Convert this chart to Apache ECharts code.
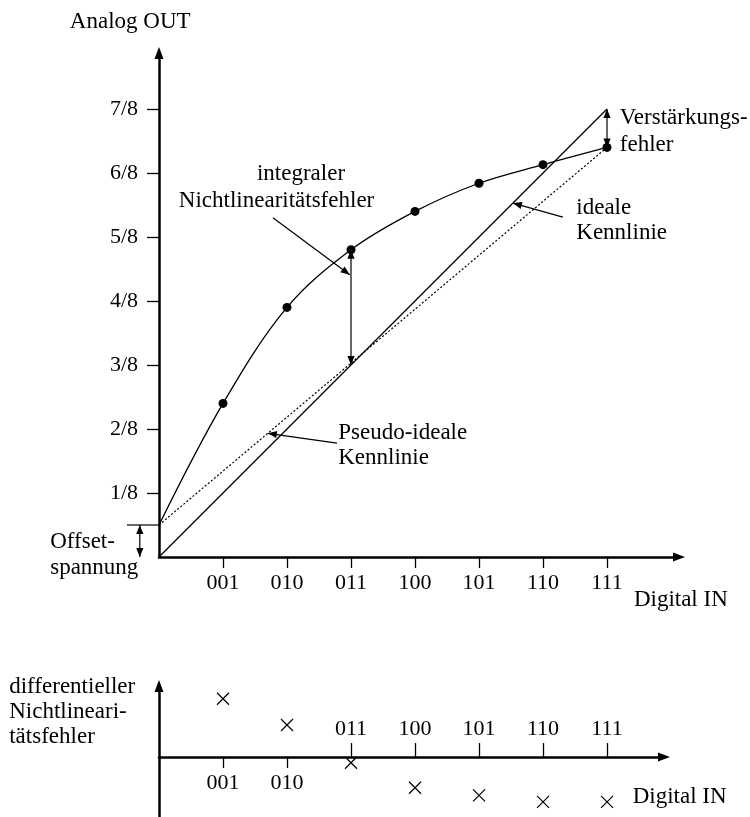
<!DOCTYPE html>
<html>
<head>
<meta charset="utf-8">
<title>DAU-Kennlinie und Fehlerarten</title>
<script src="https://cdn.jsdelivr.net/npm/echarts@6/dist/echarts.min.js"></script>
<style>
  html, body { margin: 0; padding: 0; background: #fff; }
  #chart { width: 750px; height: 817px; }
</style>
</head>
<body>
<div id="chart"></div>
<script>
// Input codes of the 3-bit converter and their step index
const codes = ['001', '010', '011', '100', '101', '110', '111'];
const codeSteps = [1, 2, 3, 4, 5, 6, 7];
// Output scale labels (eighths of full scale)
const outLabels = ['1/8', '2/8', '3/8', '4/8', '5/8', '6/8', '7/8'];
const outSteps = [1, 2, 3, 4, 5, 6, 7];
// Output at code 000 (offset) and measured output per code, in eighths
const offsetLevel = 0.5;
const measuredOut = [2.4, 3.9, 4.8, 5.4, 5.84, 6.13, 6.4];
// Ideal output per code, in eighths
const idealOut = [1, 2, 3, 4, 5, 6, 7];
// Differential nonlinearity per code, in LSB
const dnlValues = [0.91, 0.5, -0.09, -0.48, -0.6, -0.7, -0.7];

const FONT = '"Liberation Serif", "Times New Roman", serif';
const INK = '#000';

// Both diagrams share one scale: pixels per LSB on either axis
const PX_PER_STEP = 64;
const lowerYMin = -0.9375, lowerYMax = 1.11;

// Pseudo-ideal line: straight from the offset point to the last measured point
const lastCode = codeSteps[codeSteps.length - 1];
const lastOut = measuredOut[measuredOut.length - 1];
function pseudoAt(x) { return offsetLevel + (lastOut - offsetLevel) * x / lastCode; }

// Arrows: [x1, y1, x2, y2, head at start, head at end]
const mainArrows = [
  [codeSteps[2], measuredOut[2], codeSteps[2], idealOut[2], 1, 1],   // integral nonlinearity
  [lastCode, idealOut[6], lastCode, lastOut, 1, 1],                   // gain error
  [-0.3, 0, -0.3, offsetLevel, 1, 1],                                 // offset voltage
  [1.78, 5.3, 2.98, 4.41, 0, 1],                                      // pointer: integral
  [6.31, 5.31, 5.53, 5.53, 0, 1],                                     // pointer: ideal line
  [2.78, 1.78, 1.7, pseudoAt(1.7), 0, 1]                              // pointer: pseudo-ideal
];
// Plain strokes: [x1, y1, x2, y2]
const mainStrokes = [
  [-0.5, offsetLevel, 0, offsetLevel]
];
// Text blocks of the upper diagram: [x, y] in data units, with text and alignment
const mainTextPos = [
  [-0.45, 8.36], [7.42, -0.67],
  [7.2, 6.86], [7.2, 6.44],
  [6.52, 5.45], [6.52, 5.06],
  [1.53, 5.98], [0.31, 5.56],
  [2.8, 1.94], [2.8, 1.55],
  [-1.7, 0.23], [-1.7, -0.17]
];
const mainTexts = [
  'Analog OUT', 'Digital IN',
  'Verstärkungs-', 'fehler',
  'ideale', 'Kennlinie',
  'integraler', 'Nichtlinearitätsfehler',
  'Pseudo-ideale', 'Kennlinie',
  'Offset-', 'spannung'
];
const mainAlign = ['center', 'left', 'left', 'left', 'left', 'left',
                   'left', 'left', 'left', 'left', 'left', 'left'];
// Text blocks of the lower diagram
const lowerTextPos = [[-2.34, 1.09], [-2.34, 0.70], [-2.34, 0.31], [7.4, -0.63]];
const lowerTexts = ['differentieller', 'Nichtlineari-', 'tätsfehler', 'Digital IN'];

function arrowHead(from, tip) {
  const dx = tip[0] - from[0], dy = tip[1] - from[1];
  const L = Math.hypot(dx, dy) || 1;
  const ux = dx / L, uy = dy / L, len = 9, w = 3.6;
  const bx = tip[0] - ux * len, by = tip[1] - uy * len;
  return {
    type: 'polygon',
    shape: { points: [[tip[0], tip[1]], [bx - uy * w, by + ux * w], [bx + uy * w, by - ux * w]] },
    style: { fill: INK }
  };
}

function renderArrow(params, api) {
  const p1 = api.coord([api.value(0), api.value(1)]);
  const p2 = api.coord([api.value(2), api.value(3)]);
  const children = [{
    type: 'line',
    shape: { x1: p1[0], y1: p1[1], x2: p2[0], y2: p2[1] },
    style: { stroke: INK, lineWidth: 1.2 }
  }];
  if (api.value(4)) children.push(arrowHead(p2, p1));
  if (api.value(5)) children.push(arrowHead(p1, p2));
  return { type: 'group', children: children };
}

function renderStroke(params, api) {
  const p1 = api.coord([api.value(0), api.value(1)]);
  const p2 = api.coord([api.value(2), api.value(3)]);
  return {
    type: 'line',
    shape: { x1: p1[0], y1: p1[1], x2: p2[0], y2: p2[1] },
    style: { stroke: INK, lineWidth: 1.2 }
  };
}

function textRenderer(texts, aligns) {
  return function (params, api) {
    const p = api.coord([api.value(0), api.value(1)]);
    return {
      type: 'text',
      x: p[0], y: p[1],
      style: {
        text: texts[params.dataIndex],
        fill: INK,
        fontFamily: FONT,
        fontSize: 23,
        align: aligns ? aligns[params.dataIndex] : 'left',
        verticalAlign: 'middle'
      }
    };
  };
}

const axisLineStyle = { color: INK, width: 2.5 };
const tickStyle = { color: INK, width: 1.3 };
const labelStyle = { color: INK, fontFamily: FONT, fontSize: 22 };
const codeName = v => codes[codeSteps.indexOf(v)];

const chart = echarts.init(document.getElementById('chart'), null, { renderer: 'canvas' });
chart.setOption({
  animation: false,
  backgroundColor: '#fff',
  grid: [
    { left: 159, right: 71, top: 53, bottom: 260, containLabel: false, outerBoundsMode: 'none' },
    { left: 159, right: 86, top: 686, bottom: 0, containLabel: false, outerBoundsMode: 'none' }
  ],
  xAxis: [
    {
      type: 'value', gridIndex: 0, min: 0, max: 8.125,
      axisLine: { show: true, onZero: false, symbol: ['none', 'triangle'], symbolSize: [9, 12], lineStyle: axisLineStyle },
      axisTick: { show: true, customValues: codeSteps, length: 11, lineStyle: tickStyle },
      axisLabel: Object.assign({ customValues: codeSteps, margin: 15, formatter: codeName }, labelStyle),
      splitLine: { show: false }
    },
    {
      // lower diagram: zero line, codes 001 and 010 labelled below it
      type: 'value', gridIndex: 1, min: 0, max: 7.89, position: 'bottom',
      offset: lowerYMin * PX_PER_STEP,
      axisLine: { show: true, onZero: false, symbol: ['none', 'triangle'], symbolSize: [9, 12], lineStyle: axisLineStyle },
      axisTick: { show: true, customValues: codeSteps.slice(0, 2), length: 11, lineStyle: tickStyle },
      axisLabel: Object.assign({ customValues: codeSteps.slice(0, 2), margin: 15, formatter: codeName }, labelStyle),
      splitLine: { show: false }
    },
    {
      // lower diagram: codes 011..111 labelled above the zero line
      type: 'value', gridIndex: 1, min: 0, max: 7.89, position: 'top',
      offset: -lowerYMax * PX_PER_STEP,
      axisLine: { show: false, onZero: false },
      axisTick: { show: true, customValues: codeSteps.slice(2), length: 14, lineStyle: tickStyle },
      axisLabel: Object.assign({ customValues: codeSteps.slice(2), margin: 17, formatter: codeName }, labelStyle),
      splitLine: { show: false }
    }
  ],
  yAxis: [
    {
      type: 'value', gridIndex: 0, min: 0, max: 7.875,
      axisLine: { show: true, onZero: false, symbol: ['none', 'triangle'], symbolSize: [9, 12], lineStyle: axisLineStyle },
      axisTick: { show: true, customValues: outSteps, length: 12, lineStyle: tickStyle },
      axisLabel: Object.assign({ customValues: outSteps, margin: 21, formatter: v => outLabels[outSteps.indexOf(v)] }, labelStyle),
      splitLine: { show: false }
    },
    {
      type: 'value', gridIndex: 1, min: lowerYMin, max: lowerYMax,
      axisLine: { show: true, onZero: false, symbol: ['none', 'triangle'], symbolSize: [9, 12], lineStyle: axisLineStyle },
      axisTick: { show: false },
      axisLabel: { show: false },
      splitLine: { show: false }
    }
  ],
  series: [
    {
      name: 'ideale Kennlinie', type: 'line', xAxisIndex: 0, yAxisIndex: 0,
      data: [[0, 0]].concat(codeSteps.map((c, i) => [c, idealOut[i]])),
      symbol: 'none', lineStyle: { color: INK, width: 1.3 }, z: 3
    },
    {
      name: 'Pseudo-ideale Kennlinie', type: 'line', xAxisIndex: 0, yAxisIndex: 0,
      data: [[0, offsetLevel], [lastCode, lastOut]],
      symbol: 'none', lineStyle: { color: INK, width: 1.2, type: [2, 2] }, z: 3
    },
    {
      name: 'reale Kennlinie', type: 'line', xAxisIndex: 0, yAxisIndex: 0,
      data: [[0, offsetLevel]].concat(codeSteps.map((c, i) => [c, measuredOut[i]])),
      smooth: 0.35, symbol: 'none', lineStyle: { color: INK, width: 1.3 }, z: 3
    },
    {
      name: 'Messpunkte', type: 'scatter', xAxisIndex: 0, yAxisIndex: 0,
      data: codeSteps.map((c, i) => [c, measuredOut[i]]),
      symbol: 'circle', symbolSize: 9, itemStyle: { color: INK, opacity: 1 }, z: 5
    },
    {
      type: 'custom', xAxisIndex: 0, yAxisIndex: 0, clip: false,
      data: mainArrows, renderItem: renderArrow, z: 6
    },
    {
      type: 'custom', xAxisIndex: 0, yAxisIndex: 0, clip: false,
      data: mainStrokes, renderItem: renderStroke, z: 6
    },
    {
      type: 'custom', xAxisIndex: 0, yAxisIndex: 0, clip: false,
      data: mainTextPos, renderItem: textRenderer(mainTexts, mainAlign), z: 6
    },
    {
      name: 'DNL', type: 'scatter', xAxisIndex: 1, yAxisIndex: 1,
      data: codeSteps.map((c, i) => [c, dnlValues[i]]),
      symbol: 'path://M0,0L10,10M10,0L0,10', symbolSize: 12,
      itemStyle: { color: 'none', borderColor: INK, borderWidth: 1.2, opacity: 1 }, z: 5
    },
    {
      type: 'custom', xAxisIndex: 1, yAxisIndex: 1, clip: false,
      data: lowerTextPos, renderItem: textRenderer(lowerTexts, null), z: 6
    }
  ]
});
</script>
</body>
</html>
